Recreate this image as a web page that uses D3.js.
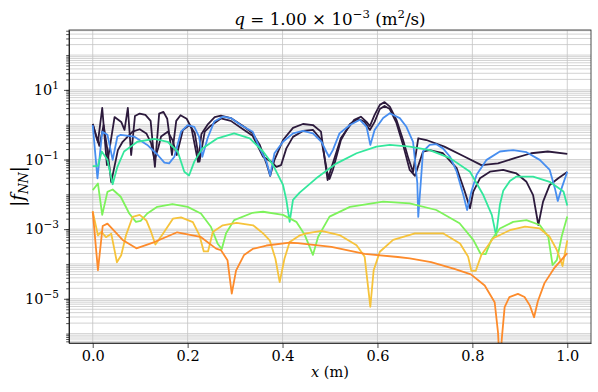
<!DOCTYPE html>
<html>
<head>
<meta charset="utf-8">
<script src="https://cdn.jsdelivr.net/npm/d3@7"></script>
<style>
body { margin: 0; background: #fff; }
text { font-family: "DejaVu Serif", serif; fill: #000; }
</style>
</head>
<body>
<svg class="chart" width="598" height="392"></svg>
<script>
// each point is [x (m), log10 |f_NN|]
const fnn1 = [[0,0.02],[0.011,-0.50],[0.020,0.48],[0.030,-1.16],[0.046,0.22],[0.060,0.08],[0.067,-0.15],[0.074,0.48],[0.081,-0.87],[0.089,0.25],[0.099,0.32],[0.111,0.28],[0.122,0.11],[0.131,-1.21],[0.140,0.32],[0.149,0.37],[0.157,0.17],[0.167,-0.87],[0.176,0.11],[0.185,0.27],[0.198,0.17],[0.208,-0.09],[0.222,-1.07],[0.229,-0.27],[0.243,0.02],[0.257,0.22],[0.270,0.26],[0.291,0.19],[0.319,-0.06],[0.337,-0.25],[0.352,-0.58],[0.366,-1.11],[0.374,-1.47],[0.383,-1.01],[0.401,-0.44],[0.422,-0.09],[0.443,0.02],[0.464,-0.01],[0.481,-0.20],[0.492,-1.30],[0.495,-1.59],[0.503,-1.24],[0.523,-0.38],[0.551,0.14],[0.565,0.23],[0.577,0.08],[0.584,-0.04],[0.594,0.28],[0.605,0.57],[0.615,0.65],[0.626,0.52],[0.640,0.14],[0.654,-0.44],[0.665,-0.96],[0.675,-1.36],[0.686,-0.39],[0.703,-0.44],[0.741,-0.63],[0.784,-0.92],[0.819,-1.16],[0.854,-1.11],[0.889,-0.96],[0.924,-0.82],[0.959,-0.77],[1.0,-0.84]];
const fnn2 = [[0,0.02],[0.007,-0.32],[0.014,-0.61],[0.023,-0.01],[0.031,-0.73],[0.039,-1.65],[0.053,-0.73],[0.063,-0.49],[0.084,-0.20],[0.099,-0.13],[0.113,-0.25],[0.123,-0.53],[0.130,-1.01],[0.138,-0.67],[0.144,-0.34],[0.158,-0.20],[0.168,-0.44],[0.177,-0.87],[0.190,-0.15],[0.204,-0.01],[0.215,-0.24],[0.225,-1.06],[0.236,-0.20],[0.246,-0.06],[0.270,0.18],[0.291,0.11],[0.319,-0.15],[0.337,-0.32],[0.359,-0.92],[0.376,-1.06],[0.387,-1.21],[0.397,-1.16],[0.408,-0.68],[0.422,-0.35],[0.443,-0.18],[0.464,-0.15],[0.482,-0.44],[0.494,-1.36],[0.499,-1.56],[0.506,-1.30],[0.523,-0.44],[0.542,0.02],[0.559,0.17],[0.573,0.08],[0.584,-0.15],[0.594,0.08],[0.605,0.45],[0.615,0.54],[0.626,0.45],[0.640,0.05],[0.654,-0.58],[0.668,-1.30],[0.679,-1.47],[0.696,-0.77],[0.710,-0.73],[0.738,-0.82],[0.767,-1.25],[0.784,-1.92],[0.795,-2.40],[0.802,-1.92],[0.816,-1.54],[0.837,-1.35],[0.865,-1.30],[0.893,-1.40],[0.914,-1.64],[0.928,-2.02],[0.939,-2.88],[0.949,-2.21],[0.963,-1.73],[0.981,-1.54],[1.0,-1.36]];
const fnn3 = [[0,-0.01],[0.010,-1.54],[0.020,-0.20],[0.031,-0.29],[0.042,-1.01],[0.052,-0.34],[0.059,-0.29],[0.087,-0.34],[0.115,-0.58],[0.137,-0.87],[0.151,-1.09],[0.161,-1.11],[0.172,-0.92],[0.186,-0.20],[0.200,-0.01],[0.214,-0.06],[0.224,-0.34],[0.231,-0.92],[0.242,-0.39],[0.256,0.09],[0.274,0.23],[0.291,0.19],[0.312,-0.01],[0.337,-0.20],[0.352,-0.68],[0.366,-1.06],[0.374,-1.46],[0.383,-0.82],[0.401,-0.49],[0.422,-0.25],[0.443,-0.18],[0.464,-0.25],[0.482,-0.49],[0.492,-0.77],[0.498,-0.92],[0.506,-0.73],[0.520,-0.25],[0.542,-0.01],[0.563,0.14],[0.577,-0.06],[0.585,-0.58],[0.594,-0.15],[0.612,0.19],[0.626,0.33],[0.647,0.19],[0.661,-0.06],[0.675,-0.49],[0.684,-1.68],[0.686,-2.65],[0.696,-0.77],[0.710,-0.58],[0.724,-0.56],[0.738,-0.68],[0.753,-0.92],[0.767,-1.35],[0.781,-2.02],[0.789,-2.45],[0.798,-1.92],[0.809,-1.44],[0.830,-1.01],[0.858,-0.77],[0.886,-0.73],[0.914,-0.79],[0.942,-1.01],[0.963,-1.30],[0.974,-1.83],[0.980,-2.19],[0.988,-1.83],[1.0,-1.35]];
const fnn4 = [[0,-1.19],[0.011,-1.18],[0.019,-0.77],[0.031,-1.01],[0.042,-1.71],[0.052,-1.21],[0.066,-0.77],[0.094,-0.49],[0.130,-0.41],[0.158,-0.49],[0.179,-0.77],[0.193,-1.35],[0.203,-1.46],[0.214,-1.06],[0.231,-0.68],[0.263,-0.39],[0.298,-0.25],[0.331,-0.39],[0.359,-0.77],[0.380,-1.16],[0.401,-1.73],[0.408,-2.16],[0.415,-2.79],[0.422,-2.16],[0.436,-1.95],[0.471,-1.54],[0.514,-1.11],[0.556,-0.82],[0.598,-0.63],[0.626,-0.58],[0.668,-0.63],[0.710,-0.73],[0.753,-0.96],[0.795,-1.35],[0.823,-2.02],[0.841,-2.59],[0.850,-3.18],[0.858,-2.30],[0.865,-1.90],[0.879,-1.62],[0.893,-1.49],[0.928,-1.49],[0.963,-1.64],[0.992,-1.92],[1.0,-2.32]];
const fnn5 = [[0,-1.88],[0.011,-1.69],[0.020,-2.59],[0.031,-1.93],[0.042,-1.86],[0.059,-2.07],[0.077,-2.55],[0.091,-2.79],[0.101,-2.76],[0.115,-2.55],[0.136,-2.36],[0.168,-2.28],[0.200,-2.36],[0.228,-2.55],[0.249,-2.93],[0.263,-3.41],[0.272,-3.57],[0.281,-3.12],[0.298,-2.74],[0.337,-2.53],[0.359,-2.50],[0.401,-2.59],[0.429,-2.79],[0.447,-3.17],[0.464,-3.74],[0.475,-3.22],[0.499,-2.64],[0.542,-2.36],[0.612,-2.21],[0.668,-2.26],[0.724,-2.45],[0.773,-2.83],[0.802,-3.31],[0.817,-3.70],[0.828,-3.72],[0.840,-3.31],[0.858,-2.98],[0.886,-2.79],[0.914,-2.74],[0.942,-2.88],[0.960,-3.22],[0.969,-4.03],[0.978,-3.89],[0.988,-3.22],[1.0,-2.64]];
const fnn6 = [[0,-2.49],[0.011,-3.18],[0.018,-3.08],[0.028,-3.23],[0.039,-3.13],[0.051,-3.95],[0.060,-3.75],[0.070,-3.18],[0.084,-2.65],[0.099,-2.59],[0.113,-2.75],[0.123,-3.08],[0.132,-3.44],[0.148,-3.13],[0.169,-2.70],[0.186,-2.66],[0.211,-2.80],[0.225,-3.18],[0.234,-3.64],[0.243,-3.64],[0.253,-3.08],[0.274,-2.89],[0.303,-2.82],[0.338,-2.89],[0.359,-3.12],[0.373,-3.32],[0.385,-3.85],[0.394,-4.52],[0.404,-3.85],[0.415,-3.37],[0.436,-3.18],[0.450,-3.12],[0.482,-3.05],[0.520,-3.17],[0.556,-3.46],[0.573,-3.79],[0.585,-5.23],[0.592,-4.18],[0.605,-3.65],[0.633,-3.31],[0.679,-3.12],[0.738,-3.12],[0.774,-3.41],[0.791,-3.79],[0.798,-4.20],[0.807,-4.20],[0.819,-3.74],[0.844,-3.26],[0.879,-3.03],[0.911,-2.93],[0.942,-2.98],[0.963,-3.22],[0.978,-3.60],[0.990,-4.06],[1.0,-3.32]];
const fnn7 = [[0,-2.49],[0.011,-4.18],[0.021,-2.91],[0.031,-2.84],[0.063,-3.31],[0.092,-3.55],[0.130,-3.37],[0.178,-3.09],[0.227,-3.22],[0.260,-3.56],[0.270,-3.60],[0.284,-3.89],[0.293,-4.85],[0.302,-4.19],[0.319,-3.74],[0.337,-3.57],[0.366,-3.47],[0.415,-3.39],[0.432,-3.40],[0.503,-3.51],[0.573,-3.71],[0.643,-3.80],[0.668,-3.84],[0.713,-3.95],[0.762,-4.14],[0.797,-4.30],[0.826,-4.62],[0.847,-5.10],[0.854,-5.96],[0.858,-7.0],[0.862,-6.15],[0.868,-5.24],[0.878,-4.95],[0.896,-4.86],[0.910,-4.95],[0.921,-5.19],[0.930,-5.53],[0.938,-5.07],[0.952,-4.55],[0.973,-4.11],[1.0,-3.69]];

const seriesList = [fnn1, fnn2, fnn3, fnn4, fnn5, fnn6, fnn7];
const seriesColors = ['#2c1a3c', '#2c1a3c', '#478ef0', '#33e79c', '#7df25b', '#f6c33b', '#fd8b2b'];

const xTicks = [0, 0.2, 0.4, 0.6, 0.8, 1.0];
const yMajorExp = [-5, -3, -1, 1];
const xDomain = [-0.05, 1.05];
const yDomainExp = [-6.27, 2.72];

function renderChart()
{
    const width = 598;
    const height = 392;
    const margin = { 'top' : 30, 'left' : 69, 'right' : 7, 'bottom' : 49 };
    const w = width - margin.left - margin.right;
    const h = height - margin.top - margin.bottom;

    const svg = d3.select('.chart');
    const holder = svg.append('g')
        .attr('transform', `translate(${margin.left}, ${margin.top})`);

    const xScale = d3.scaleLinear().domain(xDomain).range([0, w]);
    const yScale = d3.scaleLog()
        .domain([Math.pow(10, yDomainExp[0]), Math.pow(10, yDomainExp[1])])
        .range([h, 0]);

    // minor values: every k * 10^n inside the view
    let yMinor = [];
    for (let n = -7; n <= 2; n++) {
        for (let k = 1; k <= 9; k++) {
            let v = k * Math.pow(10, n);
            if (v >= yScale.domain()[0] && v <= yScale.domain()[1]) yMinor.push(v);
        }
    }

    // grid
    holder.append('g').selectAll('line')
        .data(yMinor)
        .enter()
        .append('line')
        .attr('x1', 0).attr('x2', w)
        .attr('y1', d => yScale(d)).attr('y2', d => yScale(d))
        .attr('stroke', '#c6c6c6')
        .attr('stroke-width', 0.8);

    holder.append('g').selectAll('line')
        .data(xTicks)
        .enter()
        .append('line')
        .attr('x1', d => xScale(d)).attr('x2', d => xScale(d))
        .attr('y1', 0).attr('y2', h)
        .attr('stroke', '#c4c4c4')
        .attr('stroke-width', 0.8);

    // lines
    svg.append('defs').append('clipPath').attr('id', 'clip')
        .append('rect').attr('width', w).attr('height', h);

    const line = d3.line()
        .x(d => xScale(d[0]))
        .y(d => yScale(Math.pow(10, d[1])));

    holder.append('g')
        .attr('clip-path', 'url(#clip)')
        .selectAll('path')
        .data(seriesList)
        .enter()
        .append('path')
        .attr('d', d => line(d))
        .attr('fill', 'none')
        .attr('stroke', (d, i) => seriesColors[i])
        .attr('stroke-width', 1.8)
        .attr('stroke-linejoin', 'round');

    // axes
    const xAxis = holder.append('g')
        .attr('transform', `translate(0, ${h})`)
        .call(d3.axisBottom(xScale)
            .tickValues(xTicks)
            .tickFormat(d3.format('.1f'))
            .tickSize(5)
            .tickSizeOuter(0)
            .tickPadding(3)
        );
    xAxis.selectAll('text').attr('font-size', 14.5).attr('font-family', 'DejaVu Serif');

    holder.append('g')
        .call(d3.axisLeft(yScale)
            .tickValues(yMinor)
            .tickFormat('')
            .tickSize(2.8)
            .tickSizeOuter(0)
        );

    const yAxis = holder.append('g')
        .call(d3.axisLeft(yScale)
            .tickValues(yMajorExp.map(e => Math.pow(10, e)))
            .tickSize(5)
            .tickSizeOuter(0)
            .tickPadding(5)
        );
    yAxis.selectAll('.tick text').each(function(d) {
        const t = d3.select(this).text('')
            .attr('font-size', 14.5)
            .attr('font-family', 'DejaVu Serif');
        const e = Math.round(Math.log10(d));
        t.append('tspan').text('10');
        t.append('tspan')
            .attr('dy', -6)
            .attr('font-size', 10.5)
            .text(String(e).replace('-', '\u2212'));
    });

    holder.selectAll('.domain').attr('stroke', '#222').attr('stroke-width', 0.8);
    holder.selectAll('.tick line').attr('stroke', '#222').attr('stroke-width', 0.8);

    holder.append('rect')
        .attr('width', w).attr('height', h)
        .attr('fill', 'none')
        .attr('stroke', '#222')
        .attr('stroke-width', 0.8);

    // title
    const title = svg.append('text')
        .attr('x', margin.left + w / 2)
        .attr('y', 25)
        .attr('text-anchor', 'middle')
        .attr('font-size', 16.7);
    title.append('tspan').attr('font-style', 'italic').text('q');
    title.append('tspan').text(' = 1.00 \u00d7 10');
    title.append('tspan').attr('dy', -7).attr('font-size', 11.7).text('\u22123');
    title.append('tspan').attr('dy', 7).text(' (m');
    title.append('tspan').attr('dy', -7).attr('font-size', 11.7).text('2');
    title.append('tspan').attr('dy', 7).text('/s)');

    // axis labels
    const xLabel = svg.append('text')
        .attr('x', margin.left + w / 2)
        .attr('y', 377)
        .attr('text-anchor', 'middle')
        .attr('font-size', 14.5);
    xLabel.append('tspan').attr('font-style', 'italic').text('x');
    xLabel.append('tspan').text(' (m)');

    const yLabel = svg.append('text')
        .attr('transform', `translate(24, ${margin.top + h / 2}) rotate(-90)`)
        .attr('text-anchor', 'middle')
        .attr('font-size', 18);
    yLabel.append('tspan').text('|');
    yLabel.append('tspan').attr('font-style', 'italic').text('f');
    yLabel.append('tspan').attr('font-style', 'italic').attr('font-size', 12.5).attr('dy', 3.5).text('NN');
    yLabel.append('tspan').attr('dy', -3.5).text('|');
}

renderChart();
</script>
</body>
</html>
